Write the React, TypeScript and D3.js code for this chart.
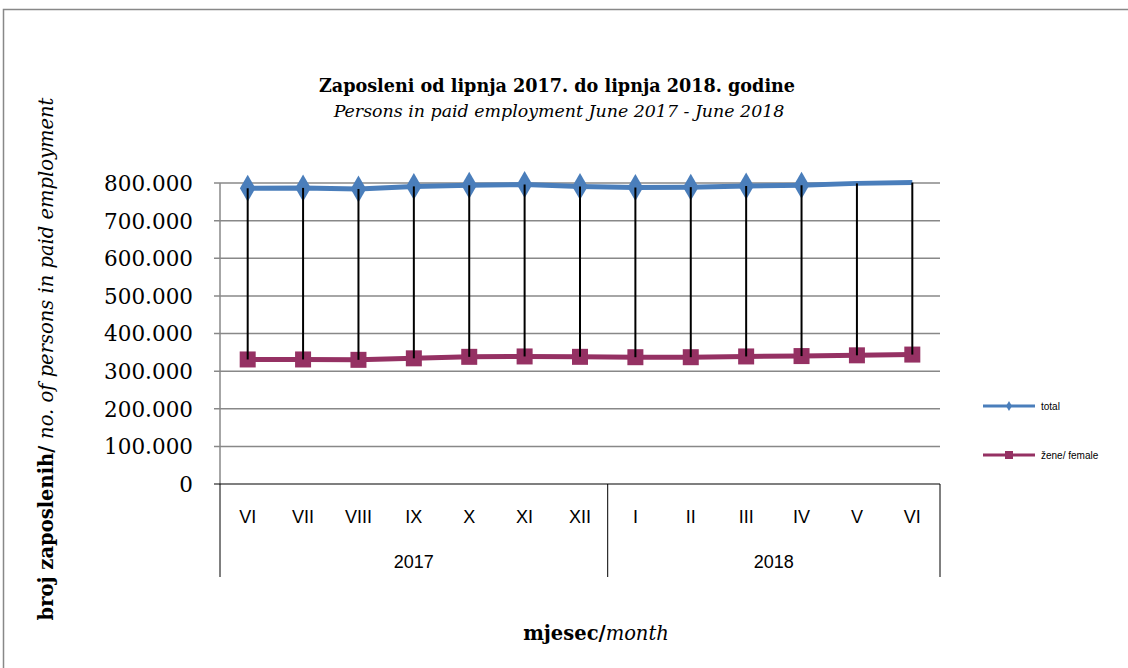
import { useEffect } from "react";
import * as d3 from "d3";

const WIDTH = 1128;
const HEIGHT = 668;
const MARGIN = { top: 183, right: 188, bottom: 184, left: 220 };

const MONTHS = ["VI", "VII", "VIII", "IX", "X", "XI", "XII", "I", "II", "III", "IV", "V", "VI"];
const YEARS = ["2017", "2017", "2017", "2017", "2017", "2017", "2017", "2018", "2018", "2018", "2018", "2018", "2018"];
const TOTAL = [786000, 787000, 784000, 791000, 794000, 796000, 791000, 788000, 789000, 792000, 794000, 799000, 801000];
const FEMALE = [331000, 331000, 330000, 334000, 338000, 339000, 338000, 337000, 337000, 339000, 340000, 342000, 344000];
// total has no markers in the last two months in the original
const TOTAL_MARKED = [true, true, true, true, true, true, true, true, true, true, true, false, false];
const Y_TICKS = [0, 100000, 200000, 300000, 400000, 500000, 600000, 700000, 800000];

const BLUE = "#4a7ebb";
const PLUM = "#953163";
const SERIF = "'DejaVu Serif', serif";
const NARROW = "'Liberation Sans Narrow', 'Liberation Sans', sans-serif";

const fmt = (v: number) => (v === 0 ? "0" : d3.format(",")(v).replace(/,/g, "."));

export default function App() {
  useEffect(() => {
    document.body.style.margin = "0";
  }, []);

  const boundsWidth = WIDTH - MARGIN.left - MARGIN.right;
  const boundsHeight = HEIGHT - MARGIN.top - MARGIN.bottom;

  const xScale = d3
    .scaleBand()
    .domain(MONTHS.map((_, i) => String(i)))
    .range([0, boundsWidth]);
  const yScale = d3.scaleLinear().domain([0, 800000]).range([boundsHeight, 0]);

  const cx = (i: number) => (xScale(String(i)) ?? 0) + xScale.bandwidth() / 2;

  const line = d3
    .line<number>()
    .x((_, i) => cx(i))
    .y((d) => yScale(d));

  // year groups
  const years = Array.from(new Set(YEARS));
  const yearGroups = years.map((y) => {
    const idx = YEARS.map((v, i) => (v === y ? i : -1)).filter((i) => i >= 0);
    const x0 = xScale(String(idx[0])) ?? 0;
    const x1 = (xScale(String(idx[idx.length - 1])) ?? 0) + xScale.bandwidth();
    return { year: y, x0, x1 };
  });

  return (
    <svg width={WIDTH} height={HEIGHT} style={{ display: "block", background: "#fff" }}>
      <rect x={3.5} y={9.5} width={WIDTH + 10} height={HEIGHT + 10} fill="none" stroke="#888" strokeWidth={1.5} />

      <text x={557} y={92} textAnchor="middle" fontFamily={SERIF} fontWeight="bold" fontSize={17.6}>
        Zaposleni od lipnja 2017. do lipnja 2018.  godine
      </text>
      <text x={559} y={117} textAnchor="middle" fontFamily={SERIF} fontStyle="italic" fontSize={17.4}>
        Persons in paid employment  June 2017 - June 2018
      </text>

      <text
        transform={`translate(53,359) rotate(-90)`}
        textAnchor="middle"
        fontFamily={SERIF}
        fontSize={19.5}
      >
        <tspan fontWeight="bold">broj zaposlenih/ </tspan>
        <tspan fontStyle="italic">no. of  persons  in paid employment</tspan>
      </text>

      <text x={596} y={640} textAnchor="middle" fontFamily={SERIF} fontSize={19.5}>
        <tspan fontWeight="bold">mjesec/</tspan>
        <tspan fontStyle="italic">month</tspan>
      </text>

      <g transform={`translate(${MARGIN.left},${MARGIN.top})`}>
        {Y_TICKS.filter((t) => t > 0).map((t) => (
          <line key={t} x1={-6} x2={boundsWidth} y1={yScale(t)} y2={yScale(t)} stroke="#888" strokeWidth={1.5} />
        ))}
        {Y_TICKS.map((t) => (
          <text
            key={`l${t}`}
            x={-27}
            y={yScale(t)}
            dy="0.37em"
            textAnchor="end"
            fontFamily={SERIF}
            fontSize={21.5}
            fill="#000"
          >
            {fmt(t)}
          </text>
        ))}
        <line x1={0} x2={0} y1={0} y2={boundsHeight} stroke="#888" strokeWidth={1.5} />
        <line x1={-6} x2={boundsWidth} y1={boundsHeight} y2={boundsHeight} stroke="#000" strokeWidth={1.2} />

        {/* category axis */}
        {MONTHS.map((m, i) => (
          <text
            key={`m${i}`}
            x={cx(i)}
            y={boundsHeight + 39}
            textAnchor="middle"
            fontFamily={NARROW}
            fontSize={18}
          >
            {m}
          </text>
        ))}
        {yearGroups.map((g) => (
          <text
            key={g.year}
            x={(g.x0 + g.x1) / 2}
            y={boundsHeight + 84}
            textAnchor="middle"
            fontFamily={NARROW}
            fontSize={18}
          >
            {g.year}
          </text>
        ))}
        {[0, ...yearGroups.map((g) => g.x1)].map((x, i) => (
          <line key={`s${i}`} x1={x} x2={x} y1={boundsHeight} y2={boundsHeight + 93} stroke="#000" strokeWidth={1} />
        ))}

        <path d={line(TOTAL) ?? ""} fill="none" stroke={BLUE} strokeWidth={5} />
        {TOTAL.map((t, i) =>
          TOTAL_MARKED[i] ? (
            <path
              key={`d${i}`}
              d={d3.symbol(d3.symbolDiamond, 210)() ?? ""}
              transform={`translate(${cx(i)},${yScale(t)})`}
              fill={BLUE}
            />
          ) : null
        )}

        <path d={line(FEMALE) ?? ""} fill="none" stroke={PLUM} strokeWidth={5} />
        {FEMALE.map((f, i) => (
          <rect key={`q${i}`} x={cx(i) - 8} y={yScale(f) - 8} width={16} height={16} fill={PLUM} />
        ))}

        {/* high-low lines */}
        {TOTAL.map((t, i) => (
          <line key={`hl${i}`} x1={cx(i)} x2={cx(i)} y1={yScale(t)} y2={yScale(FEMALE[i])} stroke="#000" strokeWidth={2} />
        ))}
      </g>

      {/* legend */}
      <g transform="translate(983,406)">
        <line x1={0} x2={52} y1={0} y2={0} stroke={BLUE} strokeWidth={3} />
        <path d={d3.symbol(d3.symbolDiamond, 30)() ?? ""} transform="translate(26,0)" fill={BLUE} />
        <text x={58} y={0} dy="0.35em" fontFamily={NARROW} fontSize={10}>
          total
        </text>
      </g>
      <g transform="translate(983,455)">
        <line x1={0} x2={52} y1={0} y2={0} stroke={PLUM} strokeWidth={3} />
        <rect x={22} y={-4} width={8} height={8} fill={PLUM} />
        <text x={58} y={0} dy="0.35em" fontFamily={NARROW} fontSize={10}>
          žene/ female
        </text>
      </g>
    </svg>
  );
}
